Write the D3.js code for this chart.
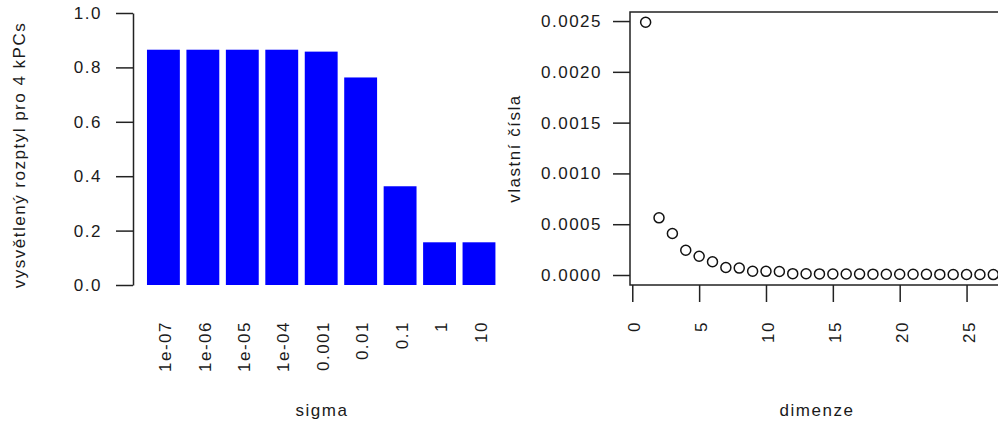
<!DOCTYPE html>
<html>
<head>
<meta charset="utf-8">
<script src="https://cdn.jsdelivr.net/npm/d3@7"></script>
<style>
  html, body { margin: 0; padding: 0; background: #fff; }
  svg text { font-family: "Liberation Sans", Arial, sans-serif; font-size: 17px; fill: #1a1a1a; letter-spacing: 1.5px; }
</style>
</head>
<body>
<svg id="chart" width="998" height="425"></svg>
<script>
// Explained variance for 4 kernel PCs, by kernel width sigma
const sigmaLabels = ["1e-07", "1e-06", "1e-05", "1e-04", "0.001", "0.01", "0.1", "1", "10"];
const explainedVar = [0.865, 0.865, 0.865, 0.865, 0.858, 0.763, 0.363, 0.157, 0.157];
const varTicks = [0, 0.2, 0.4, 0.6, 0.8, 1.0];

// Eigenvalues by dimension
const eigenvalues = [
  0.002488, 0.000563, 0.000408, 0.000244, 0.000185, 0.000130, 0.000074, 0.000068,
  0.000037, 0.000036, 0.000035, 0.000013, 0.000012, 0.000011, 0.000010, 0.0000095,
  0.000009, 0.0000085, 0.000008, 0.0000075, 0.000007, 0.0000065, 0.000006, 0.0000055,
  0.000005, 0.0000045, 0.000004
];
const dimTicks = [0, 5, 10, 15, 20, 25];
const eigTicks = [0, 0.0005, 0.0010, 0.0015, 0.0020, 0.0025];

const svg = d3.select("#chart");
const TICK = 17;
const axisStroke = "#222";

function styleAxis(g) {
  g.selectAll("line").attr("stroke", axisStroke).attr("stroke-width", 1.5);
  g.selectAll("path.domain").attr("stroke", axisStroke).attr("stroke-width", 1.5);
  g.selectAll("text").attr("fill", "#1a1a1a").style("font-size", "17px")
    .style("font-family", '"Liberation Sans", Arial, sans-serif');
}

// ---------- left panel: bar chart ----------
const yL = d3.scaleLinear().domain([0, 1]).range([285, 13]);
const xL = d3.scaleBand().domain(sigmaLabels).range([140.4, 502]).paddingInner(1 / 6).paddingOuter(1 / 6);

svg.append("g").selectAll("rect").data(explainedVar).join("rect")
  .attr("x", (d, i) => xL(sigmaLabels[i]))
  .attr("width", xL.bandwidth())
  .attr("y", d => yL(d))
  .attr("height", d => yL(0) - yL(d))
  .attr("fill", "#0000ff");

const gyL = svg.append("g").attr("transform", "translate(133,0)")
  .call(d3.axisLeft(yL).tickValues(varTicks).tickFormat(d3.format(".1f"))
    .tickSize(TICK).tickSizeOuter(0).tickPadding(14));
styleAxis(gyL);

// rotated category labels under the bars
svg.append("g").selectAll("text").data(sigmaLabels).join("text")
  .attr("transform", d => `translate(${xL(d) + xL.bandwidth() / 2},321) rotate(-90)`)
  .attr("text-anchor", "end")
  .attr("dy", "0.45em")
  .text(d => d);

svg.append("text").attr("x", 322).attr("y", 416).attr("text-anchor", "middle").text("sigma");
svg.append("text")
  .attr("transform", "translate(25,155) rotate(-90)")
  .attr("text-anchor", "middle")
  .text("vysvětlený rozptyl pro 4 kPCs");

// ---------- right panel: eigenvalue scatter ----------
const xR = d3.scaleLinear().domain([-0.17, 27.8]).range([630, 1004]);
const yR = d3.scaleLinear().domain([-0.0000984, 0.002589]).range([285, 12]);

svg.append("rect")
  .attr("x", xR.range()[0]).attr("y", yR.range()[1])
  .attr("width", xR.range()[1] - xR.range()[0])
  .attr("height", yR.range()[0] - yR.range()[1])
  .attr("fill", "none").attr("stroke", axisStroke).attr("stroke-width", 1.5);

const gyR = svg.append("g").attr("transform", "translate(630,0)")
  .call(d3.axisLeft(yR).tickValues(eigTicks).tickFormat(d3.format(".4f"))
    .tickSize(TICK).tickSizeOuter(0).tickPadding(11));
gyR.select("path.domain").remove();
styleAxis(gyR);

const gxR = svg.append("g").attr("transform", "translate(0,285)")
  .call(d3.axisBottom(xR).tickValues(dimTicks).tickFormat(d3.format("d"))
    .tickSize(TICK).tickSizeOuter(0));
gxR.select("path.domain").remove();
styleAxis(gxR);
gxR.selectAll(".tick text")
  .attr("transform", "translate(0,36) rotate(-90)")
  .attr("text-anchor", "end")
  .attr("x", 0).attr("y", 0)
  .attr("dy", "0.45em");

svg.append("g").selectAll("circle").data(eigenvalues).join("circle")
  .attr("cx", (d, i) => xR(i + 1))
  .attr("cy", d => yR(d))
  .attr("r", 5)
  .attr("fill", "none")
  .attr("stroke", "#111")
  .attr("stroke-width", 1.5);

svg.append("text").attr("x", 817).attr("y", 416).attr("text-anchor", "middle").text("dimenze");
svg.append("text")
  .attr("transform", "translate(520,148.5) rotate(-90)")
  .attr("text-anchor", "middle")
  .text("vlastní čísla");
</script>
</body>
</html>
